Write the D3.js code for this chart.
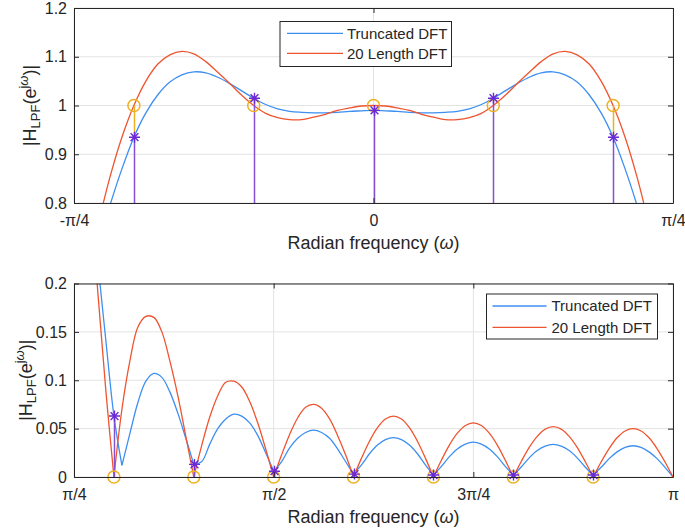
<!DOCTYPE html>
<html>
<head>
<meta charset="utf-8">
<script src="https://cdn.jsdelivr.net/npm/d3@7"></script>
<style>
  body { margin: 0; background: #fff; }
  svg text { font-family: "Liberation Sans", Arial, sans-serif; }
</style>
</head>
<body>
<div class="canvas"></div>
<script>
// frequency grids, in units of pi
const wTop = d3.range(-25, 26).map(d => d / 100);
const wBottom = d3.range(25, 101).map(d => d / 100);

// |H|, upper panel (-pi/4 .. pi/4)
const truncTop = [0.50, 0.61, 0.71, 0.795, 0.870, 0.935, 0.985, 1.022, 1.048, 1.063,
  1.069, 1.067, 1.058, 1.045, 1.030, 1.015, 1.002, 0.993, 0.988, 0.986,
  0.985, 0.985, 0.986, 0.988, 0.989, 0.990,
  0.989, 0.988, 0.986, 0.985, 0.985, 0.986, 0.988, 0.993, 1.002, 1.015,
  1.030, 1.045, 1.058, 1.067, 1.069, 1.063, 1.048, 1.022, 0.985, 0.935,
  0.870, 0.795, 0.71, 0.61, 0.50];
const dftTop = [0.535, 0.650, 0.755, 0.853, 0.935, 1.000, 1.050, 1.085, 1.104, 1.111,
  1.106, 1.090, 1.068, 1.045, 1.021, 1.000, 0.984, 0.975, 0.971, 0.971,
  0.976, 0.982, 0.990, 0.995, 0.999, 1.000,
  0.999, 0.995, 0.990, 0.982, 0.976, 0.971, 0.971, 0.975, 0.984, 1.000,
  1.021, 1.045, 1.068, 1.090, 1.106, 1.111, 1.104, 1.085, 1.050, 1.000,
  0.935, 0.853, 0.755, 0.650, 0.535];

// lower panel (pi/4 .. pi)
const truncBottom = [0.50, 0.40, 0.305, 0.220, 0.140,
  0.063, 0.012, 0.045, 0.077, 0.099, 0.107, 0.103, 0.088, 0.066, 0.040,
  0.013, 0.016, 0.034, 0.050, 0.060, 0.065, 0.063, 0.056, 0.043, 0.025,
  0.006, 0.016, 0.030, 0.040, 0.046, 0.0485, 0.046, 0.040, 0.029, 0.016,
  0.003, 0.0125, 0.024, 0.033, 0.0386, 0.0406, 0.0386, 0.033, 0.024, 0.0125,
  0.002, 0.011, 0.021, 0.029, 0.034, 0.036, 0.034, 0.029, 0.021, 0.011,
  0.002, 0.0104, 0.0198, 0.0273, 0.032, 0.0337, 0.032, 0.0273, 0.0198, 0.0104,
  0.002, 0.010, 0.019, 0.026, 0.0307, 0.0323, 0.0307, 0.026, 0.019, 0.010,
  0];
const dftBottom = [0.535, 0.417, 0.300, 0.189, 0.088,
  0, 0.070, 0.120, 0.155, 0.166, 0.165, 0.150, 0.120, 0.084, 0.042,
  0, 0.033, 0.062, 0.084, 0.098, 0.099, 0.093, 0.078, 0.056, 0.029,
  0, 0.023, 0.044, 0.061, 0.072, 0.075, 0.071, 0.060, 0.043, 0.023,
  0, 0.0195, 0.037, 0.051, 0.060, 0.063, 0.060, 0.051, 0.037, 0.0195,
  0, 0.0173, 0.033, 0.0453, 0.0533, 0.056, 0.0533, 0.0453, 0.033, 0.0173,
  0, 0.016, 0.0306, 0.042, 0.0495, 0.052, 0.0495, 0.042, 0.0306, 0.016,
  0, 0.0155, 0.0294, 0.0405, 0.0476, 0.050, 0.0476, 0.0405, 0.0294, 0.0155,
  0];

// DFT sample points
const sampleTop = [-0.2, -0.1, 0, 0.1, 0.2];
const desiredTop = [1, 1, 1, 1, 1];
const sampledTop = [0.935, 1.015, 0.99, 1.015, 0.935];
const sampleBottom = [0.3, 0.4, 0.5, 0.6, 0.7, 0.8, 0.9];
const desiredBottom = [0, 0, 0, 0, 0, 0, 0];
const sampledBottom = [0.063, 0.013, 0.006, 0.003, 0.002, 0.002, 0.002];

const xTicksTop = [-0.25, 0, 0.25];
const xLabelsTop = ['-π/4', '0', 'π/4'];
const yTicksTop = [0.8, 0.9, 1, 1.1, 1.2];
const yLabelsTop = ['0.8', '0.9', '1', '1.1', '1.2'];
const xTicksBottom = [0.25, 0.5, 0.75, 1];
const xLabelsBottom = ['π/4', 'π/2', '3π/4', 'π'];
const yTicksBottom = [0, 0.05, 0.1, 0.15, 0.2];
const yLabelsBottom = ['0', '0.05', '0.1', '0.15', '0.2'];

const seriesNames = ['Truncated DFT', '20 Length DFT'];

const blue = '#3d8ff2';
const red = '#ef5430';
const orange = '#edb120';
const purple = '#6a2ad6';
const stemPurple = '#8550d6';
const ink = '#262626';

const svg = d3.select('.canvas')
    .append('svg')
    .attr('width', 685)
    .attr('height', 530);

const starPath = 'M-5.5,0H5.5M0,-5.5V5.5M-3.9,-3.9L3.9,3.9M-3.9,3.9L3.9,-3.9';

// cut a series at its nulls so each lobe keeps its sharp V
function splitAtNulls(pts) {
    const segs = [];
    let cur = [pts[0]];
    for (let i = 1; i < pts.length; i++) {
        cur.push(pts[i]);
        const isNull = i < pts.length - 1 && pts[i][1] < 0.02 &&
            pts[i][1] <= pts[i - 1][1] && pts[i][1] <= pts[i + 1][1];
        if (isNull) { segs.push(cur); cur = [pts[i]]; }
    }
    segs.push(cur);
    return segs;
}

function panel(o) {
    const left = 74, right = 673;
    const x = d3.scaleLinear().domain(o.xDomain).range([left, right]);
    const y = d3.scaleLinear().domain(o.yDomain).range([o.bottom, o.top]);
    const g = svg.append('g');
    const px = v => Math.round(x(v)) + 0.5;

    const clipId = 'clip-' + o.key;
    svg.append('clipPath').attr('id', clipId)
        .append('rect')
        .attr('x', left).attr('y', o.top)
        .attr('width', right - left).attr('height', o.bottom - o.top);

    // grid
    g.selectAll('.hgrid').data(o.yTicks).enter().append('line')
        .attr('x1', left).attr('x2', right)
        .attr('y1', d => y(d)).attr('y2', d => y(d))
        .attr('stroke', '#e3e3e3').attr('stroke-width', 1);
    g.selectAll('.vgrid').data(o.xTicks).enter().append('line')
        .attr('x1', d => x(d)).attr('x2', d => x(d))
        .attr('y1', o.top).attr('y2', o.bottom)
        .attr('stroke', '#e3e3e3').attr('stroke-width', 1);

    const plot = g.append('g').attr('clip-path', `url(#${clipId})`);
    const line = d3.line()
        .x(d => x(d[0]))
        .y(d => y(d[1]))
        .curve(d3.curveCatmullRom.alpha(0.5));

    [[o.trunc, blue], [o.dft, red]].forEach(([vals, col]) => {
        const pts = o.w.map((w, i) => [w, vals[i]]);
        const segs = o.split ? splitAtNulls(pts) : [pts];
        plot.append('g').selectAll('path').data(segs).enter().append('path')
            .attr('d', line)
            .attr('fill', 'none')
            .attr('stroke', col)
            .attr('stroke-width', 1.3);
    });

    // desired samples: orange stem part left visible above the purple one
    plot.selectAll('.ostem').data(o.samples).enter().append('line')
        .attr('x1', px).attr('x2', px)
        .attr('y1', (d, i) => y(Math.min(o.sampled[i], o.desired[i])))
        .attr('y2', (d, i) => y(o.desired[i]))
        .attr('stroke', orange).attr('stroke-width', 1.5);
    g.selectAll('.ocirc').data(o.samples).enter().append('circle')
        .attr('cx', d => x(d)).attr('cy', (d, i) => y(o.desired[i]))
        .attr('r', 6)
        .attr('fill', 'none').attr('stroke', orange).attr('stroke-width', 1.5);

    // truncated samples (purple stems + stars)
    plot.selectAll('.pstem').data(o.samples).enter().append('line')
        .attr('x1', px).attr('x2', px)
        .attr('y1', y(0)).attr('y2', (d, i) => y(o.sampled[i]))
        .attr('stroke', stemPurple).attr('stroke-width', 1.5);
    g.selectAll('.star').data(o.samples).enter().append('path')
        .attr('transform', (d, i) => `translate(${px(d)},${y(o.sampled[i])})`)
        .attr('d', starPath)
        .attr('fill', 'none').attr('stroke', purple).attr('stroke-width', 1.4);

    // axes, matlab style: inward ticks on all four sides
    const style = sel => sel.attr('font-size', 16)
        .attr('font-family', '"Liberation Sans", Arial, sans-serif')
        .attr('color', ink);
    g.append('g').attr('transform', `translate(0,${o.bottom})`)
        .call(d3.axisBottom(x).tickValues(o.xTicks)
            .tickFormat((d, i) => o.xLabels[i])
            .tickSizeInner(-5).tickSizeOuter(0).tickPadding(12))
        .call(style);
    g.append('g').attr('transform', `translate(0,${o.top})`)
        .call(d3.axisTop(x).tickValues(o.xTicks).tickFormat('')
            .tickSizeInner(-5).tickSizeOuter(0))
        .call(style);
    g.append('g').attr('transform', `translate(${left},0)`)
        .call(d3.axisLeft(y).tickValues(o.yTicks)
            .tickFormat((d, i) => o.yLabels[i])
            .tickSizeInner(-5).tickSizeOuter(0).tickPadding(7))
        .call(style);
    g.append('g').attr('transform', `translate(${right},0)`)
        .call(d3.axisRight(y).tickValues(o.yTicks).tickFormat('')
            .tickSizeInner(-5).tickSizeOuter(0))
        .call(style);

    // axis titles
    const xt = g.append('text')
        .attr('x', (left + right) / 2).attr('y', o.xTitleY)
        .attr('text-anchor', 'middle').attr('font-size', 18).attr('fill', ink);
    xt.append('tspan').text('Radian frequency (');
    xt.append('tspan').attr('font-style', 'italic').text('ω');
    xt.append('tspan').text(')');

    const yt = g.append('text')
        .attr('transform', `translate(${o.yTitleX},${(o.top + o.bottom) / 2}) rotate(-90)`)
        .attr('text-anchor', 'middle').attr('font-size', 18).attr('fill', ink);
    yt.append('tspan').text('|H');
    yt.append('tspan').attr('font-size', 13).attr('dy', 4).text('LPF');
    yt.append('tspan').attr('dy', -4).text('(e');
    yt.append('tspan').attr('font-size', 13).attr('dy', -8).text('j');
    yt.append('tspan').attr('font-size', 13).attr('font-style', 'italic').text('ω');
    yt.append('tspan').attr('dy', 8).text(')|');

    // legend
    const L = o.legend;
    const lg = g.append('g').attr('transform', `translate(${L.x},${L.y})`);
    lg.append('rect')
        .attr('width', L.w).attr('height', L.h)
        .attr('fill', '#fff').attr('stroke', ink).attr('stroke-width', 1);
    [blue, red].forEach((col, i) => {
        const ry = L.rows[i];
        lg.append('line')
            .attr('x1', L.x1).attr('x2', L.x2)
            .attr('y1', ry).attr('y2', ry)
            .attr('stroke', col).attr('stroke-width', 1.3);
        lg.append('text')
            .attr('x', L.tx).attr('y', ry + 5.3)
            .attr('font-size', 15).attr('fill', ink)
            .text(seriesNames[i]);
    });
}

panel({
    key: 'top', top: 8, bottom: 203,
    xDomain: [-0.25, 0.25], yDomain: [0.8, 1.2],
    w: wTop, trunc: truncTop, dft: dftTop, split: false,
    samples: sampleTop, desired: desiredTop, sampled: sampledTop,
    xTicks: xTicksTop, xLabels: xLabelsTop,
    yTicks: yTicksTop, yLabels: yLabelsTop,
    xTitleY: 249, yTitleX: 36,
    legend: { x: 280, y: 21.5, w: 171.5, h: 45, rows: [11.8, 31.8], x1: 7, x2: 63, tx: 67 }
});

panel({
    key: 'bottom', top: 283.5, bottom: 477,
    xDomain: [0.25, 1], yDomain: [0, 0.2],
    w: wBottom, trunc: truncBottom, dft: dftBottom, split: true,
    samples: sampleBottom, desired: desiredBottom, sampled: sampledBottom,
    xTicks: xTicksBottom, xLabels: xLabelsBottom,
    yTicks: yTicksBottom, yLabels: yLabelsBottom,
    xTitleY: 523, yTitleX: 32,
    legend: { x: 486.5, y: 294, w: 171, h: 45, rows: [12, 33.3], x1: 6, x2: 60, tx: 65 }
});
</script>
</body>
</html>
